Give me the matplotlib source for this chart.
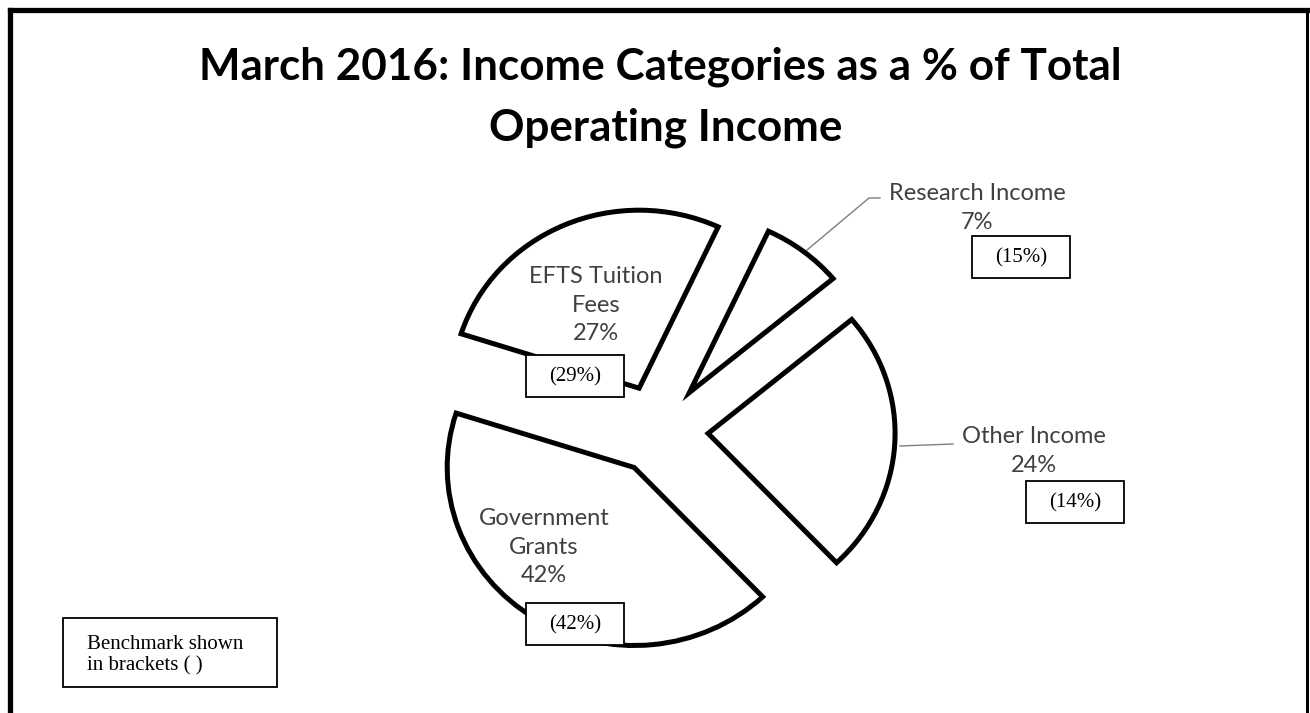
import matplotlib
matplotlib.use("Agg")
import matplotlib.pyplot as plt
from matplotlib.patches import Rectangle

# data
categories = ["Research Income", "Other Income", "Government Grants", "EFTS Tuition Fees"]
shares = [7, 24, 42, 27]
benchmarks = [15, 14, 42, 29]
explode = [0.27, 0.265, 0.245, 0.26]

W, H = 1310, 713
fig = plt.figure(figsize=(W / 100, H / 100), dpi=100)

# pie in its own axes, scaled so that the pie sits where it should in pixel terms
cx, cy = 658.6, 430.6          # pie centre (px from top-left)
rx, ry = 187.0, 178.0          # px per unit radius (source is slightly stretched)
ax = fig.add_axes([0, 0, 1, 1])
wedges, _ = ax.pie(
    shares,
    explode=explode,
    startangle=65,
    counterclock=False,
    radius=1,
    colors=["white"] * len(shares),
    wedgeprops=dict(edgecolor="black", linewidth=3.6, joinstyle="miter"),
)
ax.set_aspect("auto")
ax.set_xlim(-cx / rx, (W - cx) / rx)
ax.set_ylim(-(H - cy) / ry, cy / ry)
ax.axis("off")

# overlay in pixel coords for text, boxes, leaders
ov = fig.add_axes([0, 0, 1, 1], facecolor="none")
ov.set_xlim(0, W)
ov.set_ylim(H, 0)
ov.axis("off")

# figure border (no bottom edge)
ov.plot([9.5, 9.5], [713, 10], color="black", lw=3.8, solid_capstyle="projecting")
ov.plot([9.5, 1310], [10, 10], color="black", lw=3.8, solid_capstyle="projecting")
ov.plot([1307, 1307], [10, 713], color="black", lw=2.2)

title_font = dict(family="Lato", weight="bold", fontsize=31.7, color="black", ha="center", va="center")
ov.text(660, 67, "March 2016: Income Categories as a % of Total", **title_font)
ov.text(666, 128, "Operating Income", **title_font)

lab = dict(family="Lato", fontsize=17, color="#404040", ha="center", va="center", linespacing=1.42)
label_pos = [(977, 208), (1034, 451), (544, 547), (596, 305)]
label_txt = [
    f"Research Income\n{shares[0]}%",
    f"Other Income\n{shares[1]}%",
    f"Government\nGrants\n{shares[2]}%",
    f"EFTS Tuition\nFees\n{shares[3]}%",
]
for (x, y), t in zip(label_pos, label_txt):
    ov.text(x, y, t, **lab)

# leader lines
ov.plot([807, 869, 880], [250, 198, 198], color="#7f7f7f", lw=1.0)
ov.plot([900, 953], [446, 444], color="#7f7f7f", lw=1.0)

# benchmark boxes
box_xy = [(972, 236), (1026, 481), (526, 603), (526, 355)]
for (x, y), b in zip(box_xy, benchmarks):
    ov.add_patch(Rectangle((x, y), 98, 42, facecolor="white", edgecolor="black", lw=1.3))
    ov.text(x + 49, y + 22, f"({b}%)", family="Liberation Serif", fontsize=15,
            ha="center", va="center", color="black")

ov.add_patch(Rectangle((63, 618), 214, 69, facecolor="white", edgecolor="black", lw=1.3))
ov.text(87, 655, "Benchmark shown\nin brackets ( )", family="Liberation Serif", fontsize=15,
        ha="left", va="center", color="black", linespacing=1.15)

fig.savefig("out.png", dpi=100)
